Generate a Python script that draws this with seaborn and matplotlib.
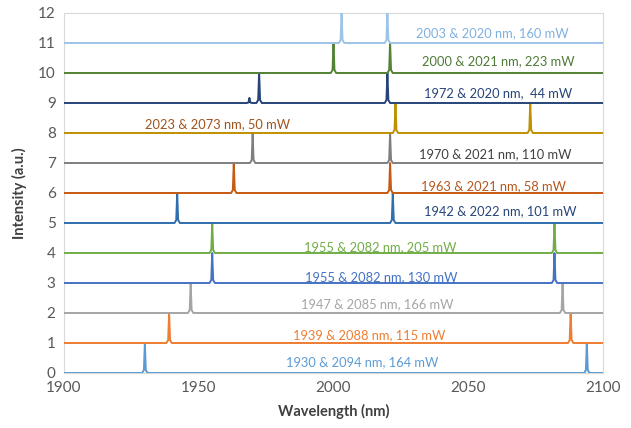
import numpy as np
import pandas as pd
import matplotlib
matplotlib.use("Agg")
import matplotlib.pyplot as plt
import seaborn as sns

# ---- data ----
offsets = [0, 1, 2, 3, 4, 5, 6, 7, 8, 9, 10, 11]
peak_a = [1930, 1939, 1947, 1955, 1955, 1942, 1963, 1970, 2023, 1972.4, 2000, 2003]
peak_b = [2094, 2088, 2085, 2082, 2082, 2022, 2021, 2021, 2073, 2020, 2021, 2020]
extra_peak_pos = {9: 1968.8}     # small satellite line on the 1972/2020 nm spectrum
extra_peak_height = {9: 0.17}
labels = [
    "1930 & 2094 nm, 164 mW",
    "1939 & 2088 nm, 115 mW",
    "1947 & 2085 nm, 166 mW",
    "1955 & 2082 nm, 130 mW",
    "1955 & 2082 nm, 205 mW",
    "1942 & 2022 nm, 101 mW",
    "1963 & 2021 nm, 58 mW",
    "1970 & 2021 nm, 110 mW",
    "2023 & 2073 nm, 50 mW",
    "1972 & 2020 nm,  44 mW",
    "2000 & 2021 nm, 223 mW",
    "2003 & 2020 nm, 160 mW",
]
label_x = [2010.8, 2013.1, 2016.1, 2017.8, 2017.2, 2062, 2059.2, 2060, 1957, 2060.9, 2061, 2059]
label_y = [0.36, 1.27, 2.29, 3.21, 4.21, 5.40, 6.23, 7.30, 8.30, 9.33, 10.40, 11.33]
line_colors = ["#5B9BD5", "#ED7D31", "#A5A5A5", "#4472C4", "#70AD47", "#2F6EAF",
               "#C55A11", "#7F7F7F", "#BF9000", "#264478", "#548235", "#9DC3E6"]
text_colors = ["#5B9BD5", "#ED7D31", "#A5A5A5", "#4472C4", "#70AD47", "#264478",
               "#B5561C", "#404040", "#A0521C", "#264478", "#4E7A36", "#7EB0E0"]
x_range = [1900, 2100]

# narrow peak outline (relative nm offsets / relative heights)
shape_dx = [-1.0, -0.35, 0.0, 0.35, 1.0]
shape_dy = [0.0, 0.10, 1.0, 0.10, 0.0]

rows = []
for i, off in enumerate(offsets):
    centers = [(peak_a[i], 1.0), (peak_b[i], 1.0)]
    if i in extra_peak_pos:
        centers.append((extra_peak_pos[i], extra_peak_height[i]))
    centers.sort()
    pts = [(x_range[0], off)]
    for c, h in centers:
        for dx, dy in zip(shape_dx, shape_dy):
            pts.append((c + dx, off + dy * h))
    pts.append((x_range[1], off))
    for k, (x, y) in enumerate(pts):
        rows.append({"series": i, "order": k, "x": x, "y": y})
df = pd.DataFrame(rows)

sns.set_theme(style="white")
plt.rcParams["font.family"] = ["Lato", "DejaVu Sans"]

fig = plt.figure(figsize=(6.31, 4.28), dpi=100)
ax = fig.add_axes([64 / 631, 1 - 373 / 428, (603 - 64) / 631, (373 - 13) / 428])

sns.lineplot(data=df, x="x", y="y", hue="series", units="series", estimator=None,
             sort=False, palette=dict(enumerate(line_colors)), linewidth=1.4,
             legend=False, ax=ax, zorder=3)

for i in range(len(labels)):
    ax.text(label_x[i], label_y[i], labels[i], color=text_colors[i],
            ha="center", va="center", fontsize=9.3, zorder=4)

ax.set_xlim(1900, 2100)
ax.set_ylim(0, 12)
ax.set_xticks([1900, 1950, 2000, 2050, 2100])
ax.set_yticks(range(0, 13))
ax.tick_params(axis="both", labelsize=11, colors="#595959", length=0, pad=6)
ax.set_xlabel("Wavelength (nm)", fontsize=10.5, fontweight="bold", color="#404040", labelpad=6)
ax.set_ylabel("Intensity (a.u.)", fontsize=10.5, fontweight="bold", color="#404040", labelpad=8)
for s in ax.spines.values():
    s.set_color("#D9D9D9")
    s.set_linewidth(0.8)
ax.grid(False)

fig.savefig("out.png", dpi=100)
